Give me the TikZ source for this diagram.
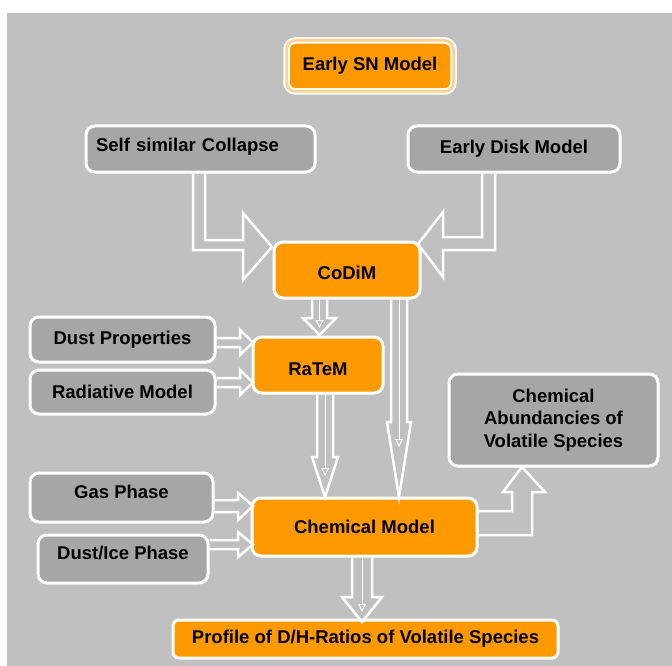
\documentclass[tikz,border=0pt]{standalone}
\usepackage{fontspec}
\setmainfont{Liberation Sans}
\usetikzlibrary{arrows.meta}
\definecolor{bgGray}{HTML}{C0C0C0}
\definecolor{boxGray}{HTML}{A6A6A6}
\definecolor{boxOrange}{HTML}{FF9900}
\begin{document}
\begin{tikzpicture}[x=1pt, y=-1pt]
      \tikzstyle{STY1} = [draw=white, line width=3pt, rounded corners=9pt, inner sep=0pt, font=\bfseries\fontsize{18.5}{22.5}\selectfont, align=center]
      \tikzstyle{STYG} = [STY1, fill=boxGray]
      \tikzstyle{STYO} = [STY1, fill=boxOrange]
      \tikzstyle{STY2} = [draw=white, line width=2.5pt, line join=miter]
      \tikzstyle{STY3} = [draw=white, line width=1pt, -{Triangle[open, length=8pt, width=8pt]}]

      \useasboundingbox (0,0) rectangle (672,666);
      \fill[white] (0,0) rectangle (672,666);
      \fill[bgGray] (7,13) rectangle (672,666);

      %%%%% VERTEX

      \node[STYO, double=boxOrange!45!white, line width=2pt, double distance=2.5pt, minimum width=167pt, minimum height=51pt](esn) at (370, 66) {Early SN Model};

      \node[STYG, minimum width=229pt, minimum height=46pt, text width=209pt, align=left, text depth=9pt](ssc) at (200.5, 149) {Self similar Collapse};
      \node[STYG, minimum width=212pt, minimum height=46pt](edm) at (514, 149) {Early Disk Model};

      \node[STYO, minimum width=146pt, minimum height=56pt, text height=20pt](codim) at (347, 270) {CoDiM};

      \node[STYG, minimum width=185pt, minimum height=45pt](dust) at (122.5, 339.5) {Dust Properties};
      \node[STYG, minimum width=185pt, minimum height=44pt](rad) at (122.5, 392) {Radiative Model};
      \node[STYO, minimum width=130pt, minimum height=56pt, text height=22pt](ratem) at (318, 365) {RaTeM};

      \node[STYG, minimum width=209pt, minimum height=92pt](abund) at (553.5, 420) {Chemical\\Abundancies of\\Volatile Species};

      \node[STYG, minimum width=183pt, minimum height=49pt, text depth=11pt](gas) at (121.5, 497.5) {Gas Phase};
      \node[STYG, minimum width=170pt, minimum height=48pt, text depth=13pt](dustice) at (123, 559) {Dust/Ice Phase};
      \node[STYO, minimum width=225pt, minimum height=58pt](chem) at (364.5, 527) {Chemical Model};

      \node[STYO, rounded corners=6pt, minimum width=385pt, minimum height=38pt](prof) at (365.5, 639) {Profile of D/H-Ratios of Volatile Species};

      %%%%% EDGES
      \draw[STY2] (193,0 |- ssc.south) -- (193,250) -- (243,250) -- (243,280) -- (272,247) -- (243,213) -- (243,240) -- (205,240) -- (205,0 |- ssc.south);
      \draw[STY2] (495,0 |- edm.south) -- (495,250) -- (443,250) -- (443,277) -- (418,244) -- (443,212) -- (443,237) -- (482,237) -- (482,0 |- edm.south);

      \draw[STY2] (312,0 |- codim.south) -- (312,318) -- (303,318) -- (319.5,335) -- (336,318) -- (327,318) -- (327,0 |- codim.south);
      \draw[STY3] (319.5,0 |- codim.south) -- (319.5,328);

      \draw[STY2] (391,0 |- codim.south) -- (391,422) -- (387,422) -- (399,497) -- (411,422) -- (407,422) -- (407,0 |- codim.south);
      \draw[STY3] (399,0 |- codim.south) -- (399,447);

      \draw[STY2] (317,0 |- ratem.south) -- (317,457) -- (312,457) -- (325,497) -- (338,457) -- (333,457) -- (333,0 |- ratem.south);
      \draw[STY3] (325,0 |- ratem.south) -- (325,476);

      \draw[STY2] (dust.east |- 0,338) -- (240,338) -- (240,330) -- (253,342.5) -- (240,355) -- (240,347) -- (dust.east |- 0,347);
      \draw[STY2] (rad.east |- 0,378) -- (240,378) -- (240,370) -- (253,382.5) -- (240,395) -- (240,387) -- (rad.east |- 0,387);

      \draw[STY2] (gas.east |- 0,500) -- (238,500) -- (238,493) -- (253,506) -- (238,520) -- (238,512) -- (gas.east |- 0,512);
      \draw[STY2] (dustice.east |- 0,540) -- (238,540) -- (238,532) -- (253,544.5) -- (238,557) -- (238,549) -- (dustice.east |- 0,549);

      \draw[STY2] (chem.east |- 0,535) -- (532,535) -- (532,492) -- (545,492) -- (522,467) -- (503,492) -- (512,492) -- (512,511) -- (chem.east |- 0,511);

      \draw[STY2] (352,0 |- chem.south) -- (352,597) -- (342,597) -- (362,622) -- (382,597) -- (372,597) -- (372,0 |- chem.south);
      \draw[STY3] (362,0 |- chem.south) -- (362,612);

\end{tikzpicture}
\end{document}
